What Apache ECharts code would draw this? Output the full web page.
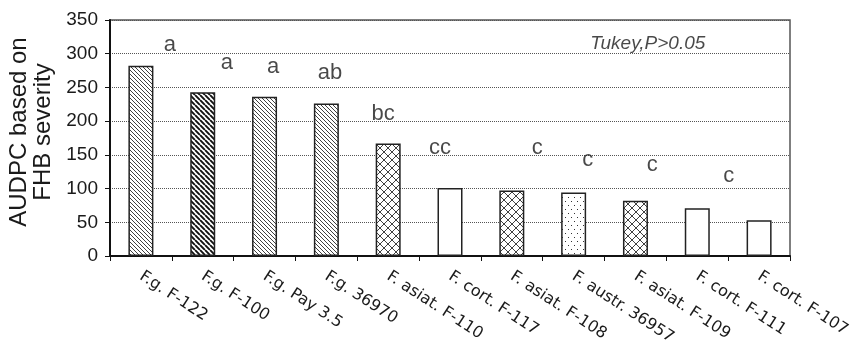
<!DOCTYPE html>
<html>
<head>
<meta charset="utf-8">
<script src="https://cdn.jsdelivr.net/npm/echarts@6/dist/echarts.min.js"></script>
<style>html,body{margin:0;padding:0;background:#fff}#c{width:850px;height:340px}</style>
</head>
<body>
<div id="c"></div>
<script>
// ---- data ----
const categories = ['F.g. F-122','F.g. F-100','F.g. Pay 3.5','F.g. 36970','F. asiat. F-110','F. cort. F-117','F. asiat. F-108','F. austr. 36957','F. asiat. F-109','F. cort. F-111','F. cort. F-107'];
const audpc = [282, 243, 236, 226, 167, 101, 97, 94, 82, 71, 53];
const yTicks = [0, 50, 100, 150, 200, 250, 300, 350];
// Tukey group letters, placed in (category units, AUDPC units)
const letters = ['a','a','a','ab','bc','cc','c','c','c','c'];
const letterCat = [0.97, 1.89, 2.64, 3.56, 4.42, 5.34, 6.91, 7.73, 8.77, 10.01];
const letterVal = [313, 287, 280, 271, 210, 161, 160, 142, 135, 119];
const noteText = 'Tukey,P>0.05';
const noteCat = 8.70;
const noteVal = 315;

// ---- styles ----
const barFill = ['diag','diagBold','diag','diag','cross','plain','cross','dots','cross','plain','plain'];

function makePattern(kind) {
  const c = document.createElement('canvas');
  const ctx = c.getContext('2d');
  let w = 4, h = 4;
  if (kind === 'diagBold') { w = h = 5; }
  if (kind === 'cross') { w = h = 8; }
  if (kind === 'dots') { w = 6; h = 8; }
  c.width = w; c.height = h;
  ctx.fillStyle = '#ffffff';
  ctx.fillRect(0, 0, w, h);
  if (kind === 'diag' || kind === 'diagBold' || kind === 'cross') {
    ctx.strokeStyle = kind === 'diagBold' ? '#111' : '#2a2a2a';
    ctx.lineWidth = kind === 'diagBold' ? 1.9 : 0.9;
    ctx.beginPath();
    for (const k of [-w, 0, w]) { ctx.moveTo(k, 0); ctx.lineTo(k + w, h); }
    if (kind === 'cross') {
      for (const k of [-w, 0, w]) { ctx.moveTo(k, h); ctx.lineTo(k + w, 0); }
    }
    ctx.stroke();
  } else if (kind === 'dots') {
    ctx.fillStyle = '#333';
    ctx.fillRect(1, 1, 1, 1);
    ctx.fillRect(4, 5, 1, 1);
  }
  return { image: c, repeat: 'repeat' };
}
const patterns = {};
['diag','diagBold','cross','dots','plain'].forEach(k => patterns[k] = makePattern(k));

const chart = echarts.init(document.getElementById('c'), null, { renderer: 'canvas' });

const letterData = letters.map((t, i) => ({ value: [letterCat[i], letterVal[i]], name: t }));
letterData.push({ value: [noteCat, noteVal], name: noteText,
  label: { fontStyle: 'italic', fontSize: 19 } });

chart.setOption({
  animation: false,
  backgroundColor: '#fff',
  grid: { left: 110, right: 60, top: 20, bottom: 84, containLabel: false, outerBoundsMode: 'none',
          show: true, borderColor: '#555', borderWidth: 1.5, backgroundColor: 'transparent' },
  xAxis: [{
    type: 'category',
    data: categories,
    boundaryGap: true,
    axisLine: { lineStyle: { color: '#111', width: 2 } },
    axisTick: { show: true, length: 5, lineStyle: { color: '#111', width: 1 } },
    axisLabel: { interval: 0, rotate: -33, margin: 19, fontFamily: 'DejaVu Sans', fontSize: 16, color: '#1a1a1a' },
    splitLine: { show: false }
  }, {
    type: 'value', min: 0, max: categories.length, show: false
  }],
  yAxis: {
    type: 'value',
    min: yTicks[0], max: yTicks[yTicks.length - 1], interval: 50,
    name: 'AUDPC based on\nFHB severity',
    nameLocation: 'middle',
    nameRotate: 90,
    nameGap: 51,
    nameTextStyle: { fontFamily: 'Liberation Sans', fontSize: 24, lineHeight: 24, color: '#1a1a1a', padding: [0, 0, 0, 12] },
    axisLine: { show: true, lineStyle: { color: '#111', width: 2 } },
    axisTick: { show: true, inside: false, length: 5, lineStyle: { color: '#111' } },
    axisLabel: { fontFamily: 'Liberation Sans', fontSize: 19, color: '#1a1a1a', margin: 12 },
    splitLine: { show: true, lineStyle: { color: '#555', type: 'dotted', width: 1 } }
  },
  series: [{
    type: 'bar',
    xAxisIndex: 0,
    barWidth: 25,
    data: audpc.map((v, i) => ({ value: v, itemStyle: { color: patterns[barFill[i]] } })),
    itemStyle: { borderColor: '#222', borderWidth: 1.5 },
    emphasis: { disabled: true }
  }, {
    type: 'scatter',
    xAxisIndex: 1,
    symbolSize: 0,
    data: letterData,
    label: { show: true, position: 'inside', formatter: p => p.name, fontFamily: 'Liberation Sans', fontSize: 22, color: '#1a1a1a' },
    emphasis: { disabled: true }
  }]
});
</script>
</body>
</html>
